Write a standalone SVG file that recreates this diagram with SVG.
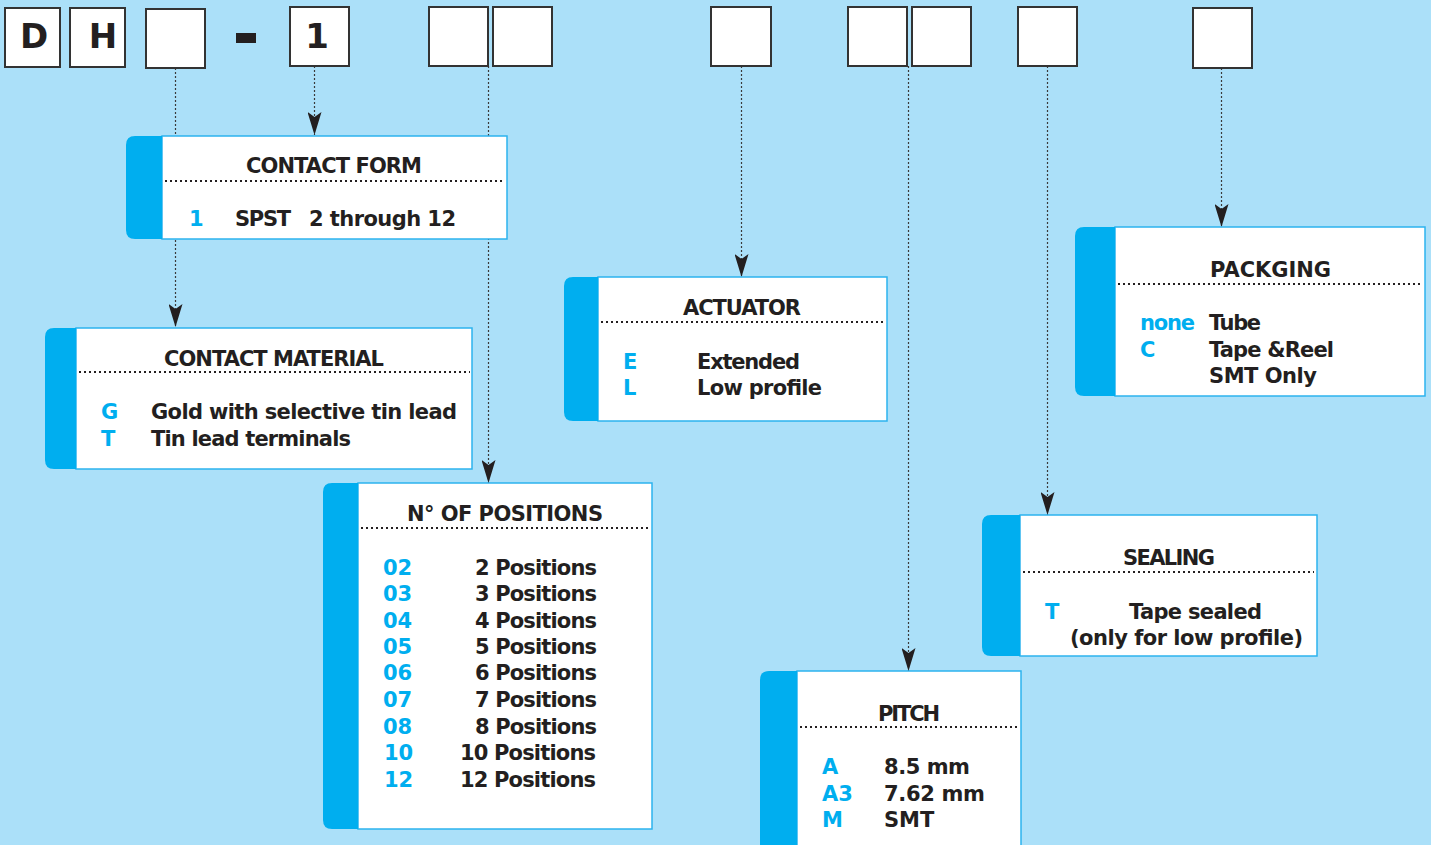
<svg xmlns="http://www.w3.org/2000/svg" width="1431" height="845" viewBox="0 0 1431 845">
<style>
text{font-family:"DejaVu Sans","Liberation Sans",sans-serif;font-weight:bold;font-size:21px;fill:#231f20}
.c{fill:#00aeef}
.t{text-anchor:middle}
.e{text-anchor:end}
.big{font-size:34px;text-anchor:middle}
.slot{fill:#fff;stroke:#333;stroke-width:2}
.card{fill:#fff;stroke:#2cb3ee;stroke-width:1.5}
.strip{fill:#00aeef}
.sep{stroke:#231f20;stroke-width:2;stroke-dasharray:2 3}
.conn{stroke:#3a3a3a;stroke-width:1.2;stroke-dasharray:2 2;fill:none}
</style>
<defs>
<marker id="arr" markerUnits="userSpaceOnUse" viewBox="0 0 23 14" markerWidth="23" markerHeight="14" refX="23" refY="7" orient="auto">
<path d="M0,0 L23,7 L0,14 L5,7 Z" fill="#231f20"/>
</marker>
</defs>
<rect width="1431" height="845" fill="#abe0f9"/>
<g id="connectors">
<line class="conn" x1="175.5" y1="68" x2="175.5" y2="327" marker-end="url(#arr)"/>
<line class="conn" x1="314.5" y1="66" x2="314.5" y2="135" marker-end="url(#arr)"/>
<line class="conn" x1="488.5" y1="66" x2="488.5" y2="483" marker-end="url(#arr)"/>
<line class="conn" x1="741.5" y1="66" x2="741.5" y2="277" marker-end="url(#arr)"/>
<line class="conn" x1="908.5" y1="66" x2="908.5" y2="671" marker-end="url(#arr)"/>
<line class="conn" x1="1047.5" y1="66" x2="1047.5" y2="515" marker-end="url(#arr)"/>
<line class="conn" x1="1221.5" y1="68" x2="1221.5" y2="227" marker-end="url(#arr)"/>
</g>
<g id="code">
<g id="slot-d"><rect class="slot" x="5" y="8" width="55" height="59"/><text class="big" x="34" y="48">D</text></g>
<g id="slot-h"><rect class="slot" x="70" y="8" width="55" height="59"/><text class="big" x="103" y="48">H</text></g>
<g id="slot-form"><rect class="slot" x="146" y="9" width="59" height="59"/></g>
<rect id="dash" x="236" y="33" width="20" height="10" fill="#231f20"/>
<g id="slot-1"><rect class="slot" x="290" y="7" width="59" height="59"/><text class="big" x="317" y="48">1</text></g>
<g id="slot-pos1"><rect class="slot" x="429" y="7" width="59" height="59"/></g>
<g id="slot-pos2"><rect class="slot" x="493" y="7" width="59" height="59"/></g>
<g id="slot-act"><rect class="slot" x="711" y="7" width="60" height="59"/></g>
<g id="slot-pitch1"><rect class="slot" x="848" y="7" width="59" height="59"/></g>
<g id="slot-pitch2"><rect class="slot" x="912" y="7" width="59" height="59"/></g>
<g id="slot-seal"><rect class="slot" x="1018" y="7" width="59" height="59"/></g>
<g id="slot-pack"><rect class="slot" x="1193" y="8" width="59" height="60"/></g>
</g>
<g id="contact-form">
<rect class="card" x="162" y="136" width="345" height="103"/>
<path class="strip" d="M162,136 H135 Q126,136 126,145 V230 Q126,239 135,239 H162 Z"/>
<text class="t" x="334" y="173" textLength="176">CONTACT FORM</text>
<line class="sep" x1="165" y1="181" x2="504" y2="181"/>
<text class="c" x="189" y="226">1</text>
<text x="235" y="226" textLength="56">SPST</text>
<text x="309" y="226" textLength="147">2 through 12</text>
</g>
<g id="contact-material">
<rect class="card" x="76" y="328" width="396" height="141"/>
<path class="strip" d="M76,328 H54 Q45,328 45,337 V460 Q45,469 54,469 H76 Z"/>
<text x="164" y="366" textLength="220">CONTACT MATERIAL</text>
<line class="sep" x1="79" y1="372" x2="470" y2="372"/>
<text class="c" x="101" y="419">G</text>
<text class="c" x="101" y="446">T</text>
<text x="151" y="419" textLength="306">Gold with selective tin lead</text>
<text x="151" y="446" textLength="200">Tin lead terminals</text>
</g>
<g id="positions">
<rect class="card" x="358" y="483" width="294" height="346"/>
<path class="strip" d="M358,483 H332 Q323,483 323,492 V820 Q323,829 332,829 H358 Z"/>
<text x="407" y="521" textLength="196">N° OF POSITIONS</text>
<line class="sep" x1="361" y1="528" x2="649" y2="528"/>
<text class="c" x="383" y="575">02</text><text class="e" x="597" y="575" textLength="122">2 Positions</text>
<text class="c" x="383" y="601">03</text><text class="e" x="597" y="601" textLength="122">3 Positions</text>
<text class="c" x="383" y="628">04</text><text class="e" x="597" y="628" textLength="122">4 Positions</text>
<text class="c" x="383" y="654">05</text><text class="e" x="597" y="654" textLength="122">5 Positions</text>
<text class="c" x="383" y="680">06</text><text class="e" x="597" y="680" textLength="122">6 Positions</text>
<text class="c" x="383" y="707">07</text><text class="e" x="597" y="707" textLength="122">7 Positions</text>
<text class="c" x="383" y="734">08</text><text class="e" x="597" y="734" textLength="122">8 Positions</text>
<text class="c" x="384" y="760">10</text><text class="e" x="596" y="760" textLength="136">10 Positions</text>
<text class="c" x="384" y="787">12</text><text class="e" x="596" y="787" textLength="136">12 Positions</text>
</g>
<g id="actuator">
<rect class="card" x="598" y="277" width="289" height="144"/>
<path class="strip" d="M598,277 H573 Q564,277 564,286 V412 Q564,421 573,421 H598 Z"/>
<text x="683" y="315" textLength="118">ACTUATOR</text>
<line class="sep" x1="601" y1="322" x2="884" y2="322"/>
<text class="c" x="623" y="369">E</text>
<text class="c" x="623" y="395">L</text>
<text x="697" y="369" textLength="103">Extended</text>
<text x="697" y="395" textLength="125">Low profile</text>
</g>
<g id="packaging">
<rect class="card" x="1115" y="227" width="310" height="169"/>
<path class="strip" d="M1115,227 H1084 Q1075,227 1075,236 V387 Q1075,396 1084,396 H1115 Z"/>
<text x="1210" y="277" textLength="121">PACKGING</text>
<line class="sep" x1="1118" y1="284" x2="1422" y2="284"/>
<text class="c" x="1140" y="330" textLength="55">none</text>
<text class="c" x="1140" y="357">C</text>
<text x="1209" y="330" textLength="52">Tube</text>
<text x="1209" y="357" textLength="125">Tape &amp;Reel</text>
<text x="1209" y="383" textLength="108">SMT Only</text>
</g>
<g id="sealing">
<rect class="card" x="1020" y="515" width="297" height="141"/>
<path class="strip" d="M1020,515 H991 Q982,515 982,524 V647 Q982,656 991,656 H1020 Z"/>
<text x="1123" y="565" textLength="92">SEALING</text>
<line class="sep" x1="1023" y1="572" x2="1314" y2="572"/>
<text class="c" x="1045" y="619">T</text>
<text x="1129" y="619" textLength="133">Tape sealed</text>
<text x="1070" y="645" textLength="233">(only for low profile)</text>
</g>
<g id="pitch">
<rect class="card" x="797" y="671" width="224" height="190"/>
<path class="strip" d="M797,671 H769 Q760,671 760,680 V861 H797 Z"/>
<text x="878" y="721" textLength="62">PITCH</text>
<line class="sep" x1="800" y1="727" x2="1018" y2="727"/>
<text class="c" x="822" y="774">A</text>
<text class="c" x="822" y="801">A3</text>
<text class="c" x="822" y="827">M</text>
<text x="884" y="774" textLength="86">8.5 mm</text>
<text x="884" y="801" textLength="101">7.62 mm</text>
<text x="884" y="827">SMT</text>
</g>
</svg>
